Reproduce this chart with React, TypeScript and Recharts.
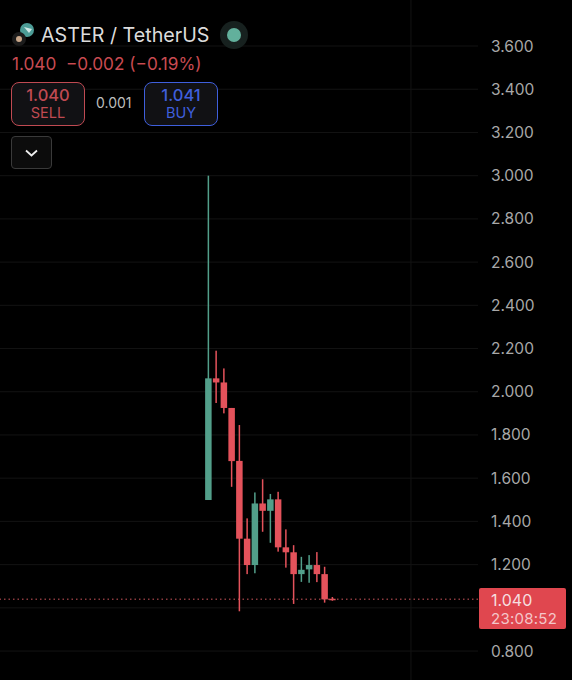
import { ComposedChart, Bar, XAxis, YAxis, CartesianGrid, ReferenceLine } from 'recharts';

const candleIndex = [0, 1, 2, 3, 4, 5, 6, 7, 8, 9, 10, 11, 12, 13, 14, 15, 16];
const opens = [1.499, 2.062, 2.043, 1.925, 1.68, 1.32, 1.198, 1.483, 1.449, 1.502, 1.28, 1.257, 1.156, 1.178, 1.198, 1.156, 1.042];
const highs = [3.0, 2.19, 2.108, 1.925, 1.846, 1.414, 1.534, 1.595, 1.527, 1.537, 1.363, 1.29, 1.236, 1.244, 1.258, 1.19, 1.05];
const lows = [1.499, 1.948, 1.9, 1.56, 0.984, 1.156, 1.16, 1.352, 1.301, 1.26, 1.186, 1.018, 1.12, 1.116, 1.119, 1.024, 1.033];
const closes = [2.062, 2.043, 1.925, 1.679, 1.32, 1.198, 1.483, 1.449, 1.502, 1.28, 1.257, 1.156, 1.176, 1.198, 1.156, 1.039, 1.04];

const priceTicks = [3.6, 3.4, 3.2, 3.0, 2.8, 2.6, 2.4, 2.2, 2.0, 1.8, 1.6, 1.4, 1.2, 0.8];
const gridPrices = [3.6, 3.4, 3.2, 3.0, 2.8, 2.6, 2.4, 2.2, 2.0, 1.8, 1.6, 1.4, 1.2, 1.0, 0.8];
const gridTimes = [26.19];
const lastPrice = 1.04;

const rows = candleIndex.map((i) => ({
  i,
  open: opens[i],
  high: highs[i],
  low: lows[i],
  close: closes[i],
}));

const RED = '#e4525b';
const GREEN = '#529f8a';

function Candle(props: any) {
  const { x, y, width, height, payload } = props;
  const { open, high, low, close } = payload;
  const color = close >= open ? GREEN : RED;
  const perUnit = height / (high - low);
  const top = y + (high - Math.max(open, close)) * perUnit;
  const bodyH = Math.max(Math.abs(open - close) * perUnit, 1.5);
  const mid = x + width / 2;
  return (
    <g>
      <rect x={mid - 0.75} y={y} width={1.5} height={height} fill={color} />
      <rect x={x} y={top} width={width} height={bodyH} fill={color} />
    </g>
  );
}

const text = (left: number, top: number, size: number, color: string) => ({
  position: 'absolute' as const,
  left,
  top,
  fontSize: size,
  lineHeight: '20px',
  color,
  whiteSpace: 'nowrap' as const,
});

function QuoteBox({ left, color, price, label }: { left: number; color: string; price: string; label: string }) {
  return (
    <div style={{ position: 'absolute', left, top: 82, width: 72, height: 42, border: `1.5px solid ${color}`, borderRadius: 8, background: '#111114', color, textAlign: 'center' }}>
      <div style={{ fontSize: 16.5, fontWeight: 500, lineHeight: '18px', marginTop: 3 }}>{price}</div>
      <div style={{ fontSize: 14.5, lineHeight: '18px' }}>{label}</div>
    </div>
  );
}

export default function App() {
  return (
    <div style={{ position: 'fixed', left: 0, top: 0, width: 572, height: 680, background: '#000', overflow: 'hidden', fontFamily: 'Inter, sans-serif' }}>
      <ComposedChart width={572} height={680} data={rows} margin={{ top: 0, right: 0, bottom: 0, left: 0 }}>
        <CartesianGrid stroke="#131313" horizontalValues={gridPrices} verticalValues={gridTimes} />
        <XAxis dataKey="i" type="number" domain={[-26.84, 34.84]} hide allowDataOverflow />
        <YAxis
          orientation="right"
          width={94}
          domain={[0.666, 3.813]}
          ticks={priceTicks}
          interval={0}
          axisLine={false}
          tickLine={false}
          tickMargin={7}
          tickFormatter={(v: number) => v.toFixed(3)}
          tick={{ fontSize: 15.5, fill: '#a8a8a8', textAnchor: 'start' }}
          allowDataOverflow
        />
        <ReferenceLine y={lastPrice} stroke="#d0575c" strokeDasharray="1.5 3" />
        <Bar dataKey={(d: any) => [d.low, d.high]} barSize={6.5} shape={Candle} isAnimationActive={false} />
      </ComposedChart>

      <svg width={40} height={40} style={{ position: 'absolute', left: 8, top: 20 }}>
        <circle cx={19} cy={10} r={7} fill="#4c9c96" />
        <path d="M16 7 L24 9 L21 13 Z" fill="#cfe8e6" />
        <circle cx={11} cy={19} r={7} fill="#1c1c1c" />
        <circle cx={11} cy={19} r={3} fill="#c9a78a" />
      </svg>
      <div style={text(41, 25, 19.7, '#dcdcdc')}>ASTER / TetherUS</div>
      <svg width={30} height={30} style={{ position: 'absolute', left: 219, top: 20 }}>
        <circle cx={15} cy={15} r={14} fill="#17211f" />
        <circle cx={15} cy={15} r={7} fill="#62b09c" />
      </svg>
      <div style={text(12, 54, 17.2, '#c94b52')}>1.040&nbsp; −0.002 (−0.19%)</div>
      <QuoteBox left={11} color="#c04a52" price="1.040" label="SELL" />
      <div style={text(96, 93, 14, '#bdbdbd')}>0.001</div>
      <QuoteBox left={144} color="#3f5fdc" price="1.041" label="BUY" />
      <div style={{ position: 'absolute', left: 11, top: 136, width: 39, height: 31, border: '1px solid #3a3a3a', borderRadius: 4, background: '#0c0c0c' }}>
        <svg width={39} height={31}>
          <path d="M14 13.5 L19.5 18.5 L25 13.5" fill="none" stroke="#eee" strokeWidth={1.8} />
        </svg>
      </div>
      <div style={{ position: 'absolute', left: 479, top: 588, width: 87, height: 41, borderRadius: 2, background: '#e0474f' }}>
        <div style={{ position: 'absolute', left: 12, top: 2.5, fontSize: 16, lineHeight: '18px', color: '#f6dfe0' }}>1.040</div>
        <div style={{ position: 'absolute', left: 12, top: 21.5, fontSize: 15, lineHeight: '18px', letterSpacing: 0.25, color: '#f4c6c9' }}>23:08:52</div>
      </div>
    </div>
  );
}
